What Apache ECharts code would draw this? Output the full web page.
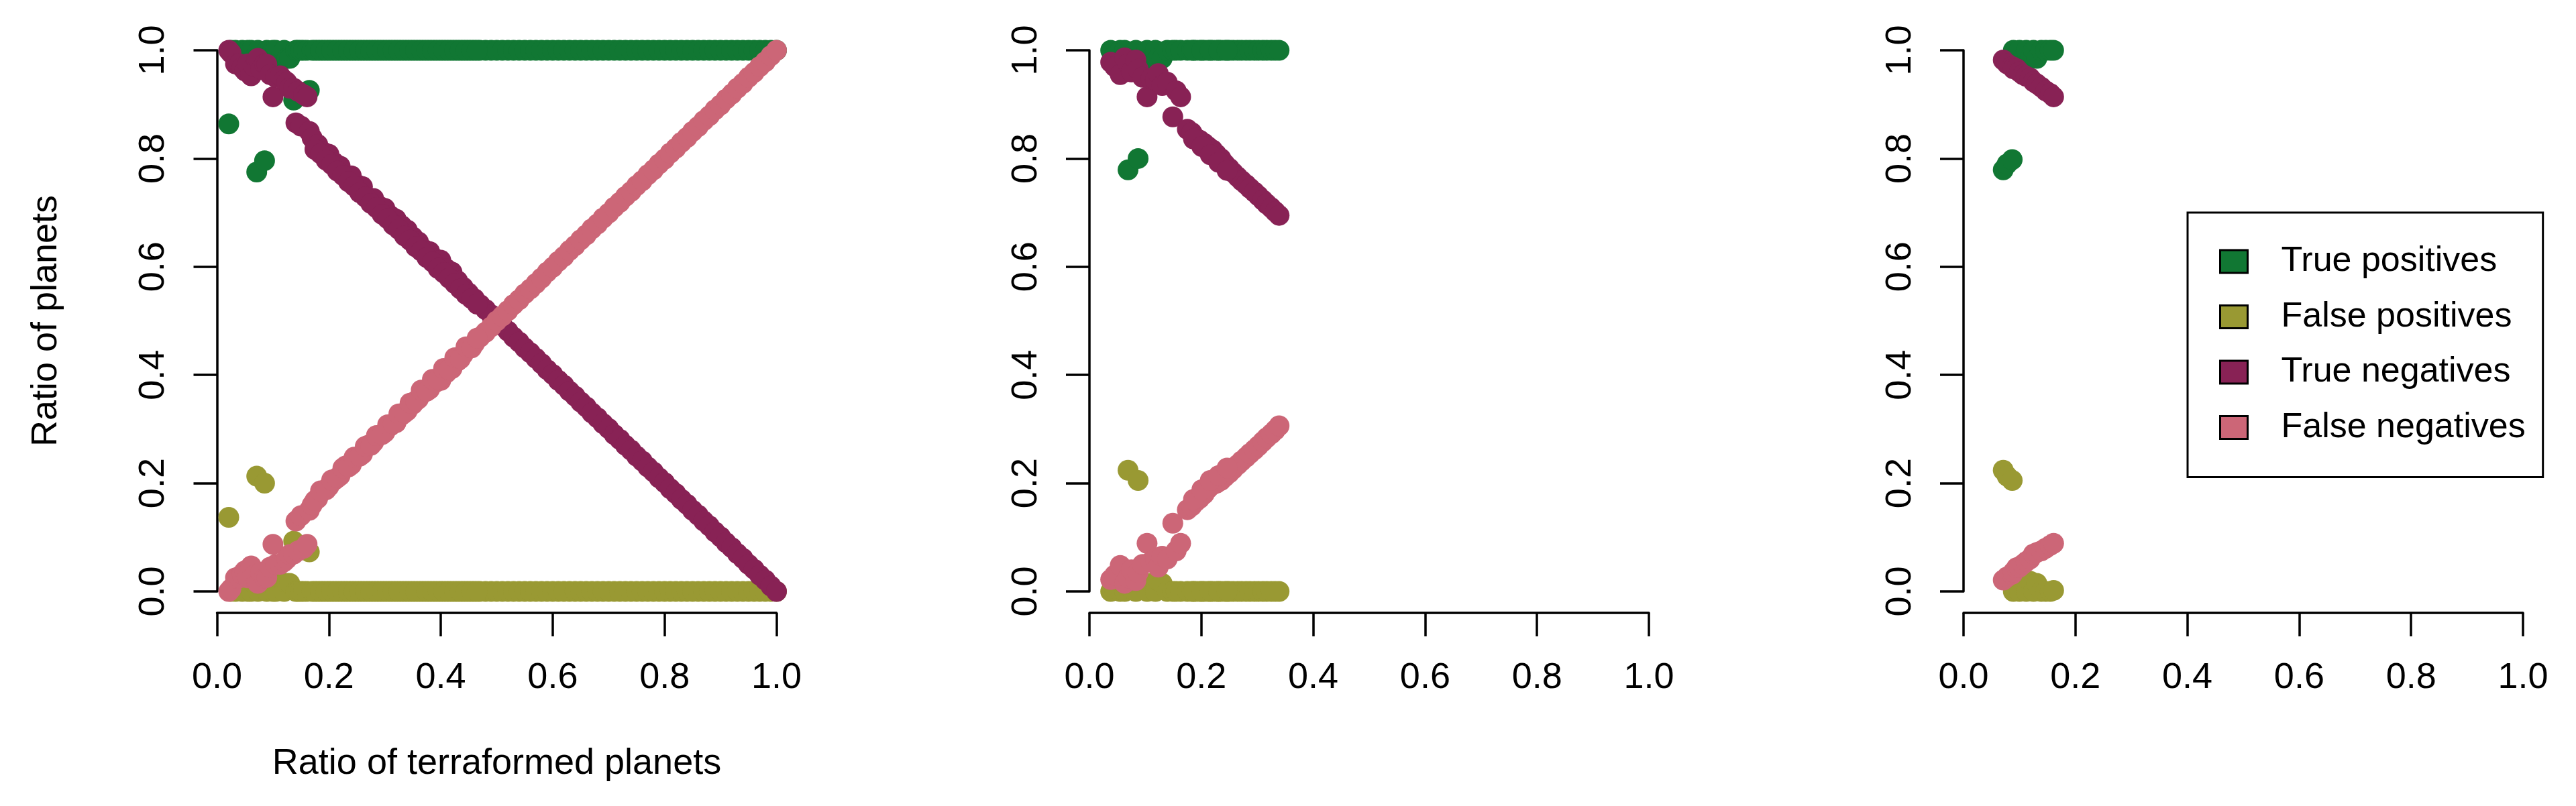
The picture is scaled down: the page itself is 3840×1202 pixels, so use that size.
<!DOCTYPE html>
<html>
<head>
<meta charset="utf-8">
<script src="https://cdn.jsdelivr.net/npm/echarts@6/dist/echarts.min.js"></script>
<style>
html,body{margin:0;padding:0;background:#fff;}
#chart{width:3840px;height:1202px;}
</style>
</head>
<body>
<div id="chart"></div>
<script>
// ---------- DATA ----------
const seriesNames = ["True positives", "False positives", "True negatives", "False negatives"];
const seriesColors = ["#117733", "#999933", "#882255", "#CC6677"];
const tickValues = [0, 0.2, 0.4, 0.6, 0.8, 1.0];
const xTitle = "Ratio of terraformed planets";
const yTitle = "Ratio of planets";

// Panel 1 (each index = one simulation: x, TP, FP, TN, FN ratios)
const p1X = [0.021,0.025,0.033,0.040,0.045,0.050,0.055,0.061,0.066,0.071,0.073,0.078,0.085,0.089,0.095,0.100,0.105,0.113,0.120,0.125,0.130,0.137,0.141,0.145,0.150,0.155,0.161,0.165,
0.17,0.18,0.19,0.20,0.21,0.22,0.23,0.24,0.25,0.26,0.27,0.28,0.29,0.30,0.31,0.32,0.33,0.34,0.35,0.36,0.37,0.38,0.39,0.40,0.41,0.42,0.43,0.44,0.45,0.46,0.47,0.48,0.49,0.50,0.51,0.52,0.53,0.54,0.55,0.56,0.57,0.58,0.59,0.60,0.61,0.62,0.63,0.64,0.65,0.66,0.67,0.68,0.69,0.70,0.71,0.72,0.73,0.74,0.75,0.76,0.77,0.78,0.79,0.80,0.81,0.82,0.83,0.84,0.85,0.86,0.87,0.88,0.89,0.90,0.91,0.92,0.93,0.94,0.95,0.96,0.97,0.98,0.99,1.00,
0.175,0.185,0.195,0.205,0.215,0.225,0.235,0.245,0.255,0.265,0.275,0.285,0.295,0.305,0.315,0.325,0.335,0.345,0.355,0.365,0.375,0.385,0.395,0.405,0.415,0.425,0.435,0.445,0.455,0.465];
const p1TP = [0.864,1,1,0.99,1,0.985,1,1,0.985,0.775,1,0.985,0.796,1,0.985,1,1,0.985,1,0.985,0.985,0.908,1,1,1,1,1,0.926,
1,1,1,1,1,1,1,1,1,1,1,1,1,1,1,1,1,1,1,1,1,1,1,1,1,1,1,1,1,1,1,1,1,1,1,1,1,1,1,1,1,1,1,1,1,1,1,1,1,1,1,1,1,1,1,1,1,1,1,1,1,1,1,1,1,1,1,1,1,1,1,1,1,1,1,1,1,1,1,1,1,1,1,1,
1,1,1,1,1,1,1,1,1,1,1,1,1,1,1,1,1,1,1,1,1,1,1,1,1,1,1,1,1,1];
const p1FP = [0.137,0,0,0.01,0,0.015,0,0,0.015,0.213,0,0.015,0.200,0,0.015,0,0,0.015,0,0.015,0.015,0.093,0,0,0,0,0,0.073,
0,0,0,0,0,0,0,0,0,0,0,0,0,0,0,0,0,0,0,0,0,0,0,0,0,0,0,0,0,0,0,0,0,0,0,0,0,0,0,0,0,0,0,0,0,0,0,0,0,0,0,0,0,0,0,0,0,0,0,0,0,0,0,0,0,0,0,0,0,0,0,0,0,0,0,0,0,0,0,0,0,0,0,0,
0,0,0,0,0,0,0,0,0,0,0,0,0,0,0,0,0,0,0,0,0,0,0,0,0,0,0,0,0,0];
const p1TN = [1.0,0.995,0.975,0.975,0.968,0.962,0.975,0.953,0.970,0.982,0.985,0.965,0.975,0.974,0.955,0.914,0.950,0.953,0.945,0.941,0.930,0.930,0.866,0.924,0.860,0.918,0.914,0.850,
0.838,0.826,0.812,0.808,0.792,0.786,0.766,0.768,0.752,0.748,0.728,0.726,0.712,0.708,0.694,0.688,0.676,0.668,0.655,0.646,0.632,0.628,0.615,0.612,0.596,0.590,0.574,0.562,0.551,0.541,0.530,0.521,0.511,0.500,0.491,0.481,0.470,0.461,0.450,0.441,0.431,0.421,0.410,0.401,0.390,0.381,0.370,0.361,0.350,0.341,0.330,0.321,0.310,0.301,0.290,0.281,0.270,0.261,0.250,0.241,0.230,0.221,0.210,0.201,0.190,0.181,0.170,0.161,0.150,0.141,0.130,0.121,0.110,0.101,0.090,0.081,0.070,0.061,0.050,0.041,0.030,0.021,0.010,0.000,
0.817,0.809,0.797,0.789,0.777,0.769,0.757,0.749,0.737,0.729,0.717,0.709,0.697,0.689,0.677,0.669,0.657,0.649,0.637,0.629,0.617,0.609,0.597,0.589,0.579,0.569,0.559,0.549,0.541,0.531];
const p1FN = [0.0,0.005,0.025,0.025,0.032,0.038,0.025,0.047,0.030,0.018,0.015,0.035,0.025,0.026,0.045,0.087,0.050,0.050,0.055,0.060,0.068,0.069,0.130,0.075,0.140,0.080,0.087,0.150,
0.160,0.172,0.186,0.194,0.206,0.214,0.232,0.234,0.248,0.254,0.270,0.276,0.288,0.294,0.306,0.312,0.326,0.334,0.346,0.356,0.368,0.374,0.386,0.390,0.404,0.412,0.426,0.438,0.450,0.458,0.470,0.479,0.489,0.500,0.509,0.519,0.530,0.539,0.550,0.559,0.569,0.579,0.590,0.599,0.610,0.619,0.630,0.639,0.650,0.659,0.670,0.679,0.690,0.699,0.710,0.719,0.730,0.739,0.750,0.759,0.770,0.779,0.790,0.799,0.810,0.819,0.830,0.839,0.850,0.859,0.870,0.879,0.890,0.899,0.910,0.919,0.930,0.939,0.950,0.959,0.970,0.979,0.990,1.000,
0.168,0.186,0.188,0.206,0.210,0.228,0.230,0.248,0.250,0.268,0.270,0.288,0.290,0.308,0.310,0.328,0.330,0.348,0.352,0.372,0.370,0.392,0.392,0.412,0.410,0.432,0.430,0.452,0.450,0.468];

// Panel 2
const p2X = [0.038,0.045,0.055,0.063,0.069,0.075,0.083,0.087,0.095,0.103,0.110,0.118,0.123,0.130,0.139,0.149,0.155,0.163,
0.175,0.183,0.190,0.197,0.205,0.212,0.220,0.227,0.235,0.242,0.250,0.257,0.265,0.272,0.280,0.287,0.295,0.302,0.310,0.317,0.325,0.332,0.339,
0.186,0.201,0.216,0.231,0.246];
const p2TP = [1,0.99,1,1,0.779,0.99,1,0.80,0.985,1,0.985,1,0.985,0.985,1,1,1,1,
1,1,1,1,1,1,1,1,1,1,1,1,1,1,1,1,1,1,1,1,1,1,1,
1,1,1,1,1];
const p2FP = [0,0.005,0,0,0.224,0.005,0,0.205,0.015,0,0.015,0,0.02,0.015,0,0,0,0,
0,0,0,0,0,0,0,0,0,0,0,0,0,0,0,0,0,0,0,0,0,0,0,
0,0,0,0,0];
const p2TN = [0.978,0.970,0.955,0.986,0.975,0.960,0.982,0.965,0.950,0.914,0.948,0.945,0.957,0.935,0.941,0.877,0.925,0.914,
0.854,0.848,0.838,0.834,0.828,0.822,0.816,0.808,0.800,0.790,0.782,0.774,0.766,0.759,0.752,0.745,0.738,0.731,0.723,0.716,0.709,0.702,0.695,
0.836,0.822,0.807,0.793,0.778];
const p2FN = [0.022,0.030,0.048,0.015,0.025,0.040,0.020,0.035,0.050,0.089,0.055,0.060,0.045,0.065,0.060,0.126,0.075,0.089,
0.151,0.158,0.166,0.172,0.180,0.190,0.197,0.200,0.205,0.212,0.219,0.226,0.234,0.241,0.248,0.255,0.262,0.269,0.277,0.284,0.291,0.298,0.306,
0.170,0.188,0.205,0.214,0.228];

// Panel 3
const p3X  = [0.071,0.078,0.087,0.089,0.095,0.100,0.106,0.112,0.119,0.125,0.131,0.139,0.147,0.155,0.161];
const p3TP = [0.779,0.790,0.798,1,0.99,1,0.985,1,0.985,1,0.985,1,1,1,1];
const p3FP = [0.224,0.213,0.205,0,0.01,0,0.018,0,0.019,0,0.015,0,0,0,0.002];
const p3TN = [0.982,0.975,0.970,0.966,0.966,0.960,0.955,0.952,0.949,0.942,0.938,0.932,0.925,0.920,0.914];
const p3FN = [0.021,0.027,0.032,0.036,0.044,0.045,0.050,0.055,0.060,0.069,0.072,0.075,0.080,0.085,0.089];

// ---------- BUILD ----------
const panels = [
  {x: p1X, ys: [p1TP, p1FP, p1TN, p1FN]},
  {x: p2X, ys: [p2TP, p2FP, p2TN, p2FN]},
  {x: p3X, ys: [p3TP, p3FP, p3TN, p3FN]}
];
const FONT = "'Liberation Sans', Arial, Helvetica, sans-serif";
const FS = 54;
const gridLefts = [323.5, 1624, 2927];
const gridTop = 75, gridW = 834, gridH = 807;

const grids = [], xAxes = [], yAxes = [], series = [];
panels.forEach((p, i) => {
  grids.push({left: gridLefts[i], top: gridTop, width: gridW, height: gridH, containLabel: false});
  const fmt = v => v.toFixed(1);
  xAxes.push({
    gridIndex: i, type: 'value', min: 0, max: 1, interval: 0.2, offset: 32,
    axisLine: {show: true, onZero: false, lineStyle: {color: '#000', width: 3.5}},
    axisTick: {show: true, inside: false, length: 35, lineStyle: {color: '#000', width: 3.5}},
    axisLabel: {show: true, margin: 70, color: '#000', fontSize: FS, fontFamily: FONT, formatter: fmt},
    splitLine: {show: false},
    name: i === 0 ? xTitle : '', nameLocation: 'middle', nameGap: 198,
    nameTextStyle: {color: '#000', fontSize: FS, fontFamily: FONT}
  });
  yAxes.push({
    gridIndex: i, type: 'value', min: 0, max: 1, interval: 0.2,
    axisLine: {show: true, onZero: false, lineStyle: {color: '#000', width: 3.5}},
    axisTick: {show: true, inside: false, length: 35, lineStyle: {color: '#000', width: 3.5}},
    axisLabel: {show: true, rotate: 90, margin: 67, color: '#000', fontSize: FS, fontFamily: FONT, formatter: fmt},
    splitLine: {show: false},
    name: i === 0 ? yTitle : '', nameLocation: 'middle', nameGap: 227,
    nameTextStyle: {color: '#000', fontSize: FS, fontFamily: FONT}
  });
  p.ys.forEach((ys, k) => {
    series.push({
      type: 'scatter', name: seriesNames[k], xAxisIndex: i, yAxisIndex: i,
      data: p.x.map((x, j) => [x, ys[j]]),
      symbol: 'circle', symbolSize: 31, clip: false, silent: true,
      itemStyle: {color: seriesColors[k], opacity: 1},
      z: 2 + k
    });
  });
});

const chart = echarts.init(document.getElementById('chart'), null, {renderer: 'canvas'});
chart.setOption({
  backgroundColor: '#fff',
  animation: false,
  grid: grids, xAxis: xAxes, yAxis: yAxes, series: series,
  legend: {
    data: seriesNames, orient: 'vertical', left: 3261, top: 317,
    padding: [47, 26, 48, 47], itemWidth: 41, itemHeight: 34, itemGap: 30.5,
    borderColor: '#000', borderWidth: 3, backgroundColor: '#fff',
    icon: 'rect', selectedMode: false,
    itemStyle: {borderColor: '#000', borderWidth: 3},
    textStyle: {color: '#000', fontSize: 52, fontFamily: FONT, lineHeight: 34, padding: [0, 0, 0, 45]}
  }
});
</script>
</body>
</html>
